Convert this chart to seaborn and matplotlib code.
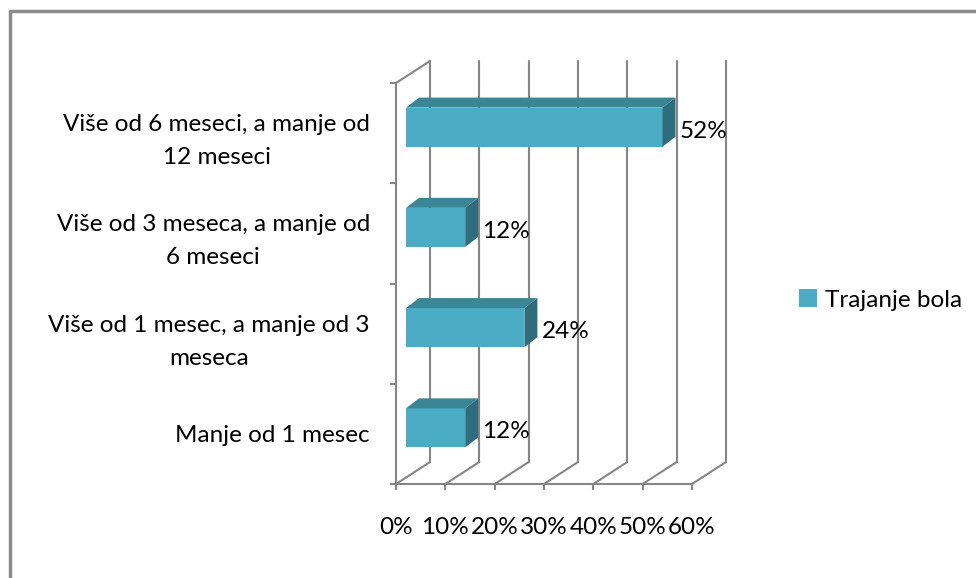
import matplotlib
matplotlib.use("Agg")
import matplotlib.pyplot as plt
import matplotlib.transforms as mtransforms
from matplotlib.lines import Line2D
from matplotlib.patches import Polygon
import seaborn as sns

# data
categories = [
    "Više od 6 meseci, a manje od\n12 meseci",
    "Više od 3 meseca, a manje od\n6 meseci",
    "Više od 1 mesec, a manje od 3\nmeseca",
    "Manje od 1 mesec",
]
values = [52, 12, 24, 12]
x_ticks = [0, 10, 20, 30, 40, 50, 60]
x_labels = ["0%", "10%", "20%", "30%", "40%", "50%", "60%"]
series_name = "Trajanje bola"

FRONT = "#4BACC6"
TOP = "#3A8596"
SIDE = "#2F6D7C"
GRID = "#868686"

sns.set_theme(style="white")
plt.rcParams["font.family"] = ["Lato", "DejaVu Sans"]
plt.rcParams["text.color"] = "black"
FS = 17.5

DPI = 100
W, H = 976, 578
fig = plt.figure(figsize=(W / DPI, H / DPI), dpi=DPI)
# front plane of the 3d box, in pixels of the picture
ax = fig.add_axes([396 / W, (H - 484) / H, (692 - 396) / W, (484 - 83) / H])

sns.barplot(x=values, y=categories, orient="h", color=FRONT, width=0.39,
            saturation=1, ax=ax, label=series_name, zorder=3)
ax.set_xlim(0, 60)
ax.set_ylim(3.5, -0.5)

ident = mtransforms.IdentityTransform()
depth = (34, 22)       # wall depth in px
bar_off = (10, 6)      # bar front face sits part way into the box
bar_depth = (13, 10)

# back wall grid lines and floor diagonals
(x0_px, yb_px), (_, yt_px) = ax.transData.transform([(0, 3.5), (0, -0.5)])
for t in x_ticks:
    xf = ax.transData.transform((t, 3.5))[0]
    xb = xf + depth[0]
    ax.add_line(Line2D([xb, xb], [yb_px + depth[1], yt_px + depth[1]], color=GRID,
                       lw=1.5, transform=ident, clip_on=False, zorder=1))
    ax.add_line(Line2D([xf, xb], [yb_px, yb_px + depth[1]], color=GRID,
                       lw=1.5, transform=ident, clip_on=False, zorder=1))
# top edge of left wall
ax.add_line(Line2D([x0_px, x0_px + depth[0]], [yt_px, yt_px + depth[1]], color=GRID,
                   lw=1.5, transform=ident, clip_on=False, zorder=1))

# turn flat bars into boxes
shift = mtransforms.ScaledTranslation(bar_off[0] / DPI, bar_off[1] / DPI, fig.dpi_scale_trans)
for bar in ax.patches:
    bx, by, bw, bh = bar.get_x(), bar.get_y(), bar.get_width(), bar.get_height()
    pts = ax.transData.transform([(bx, by), (bx + bw, by + bh)])
    lx, rx = pts[:, 0].min() + bar_off[0], pts[:, 0].max() + bar_off[0]
    lo, hi = pts[:, 1].min() + bar_off[1], pts[:, 1].max() + bar_off[1]
    dx, dy = bar_depth
    bar.set_transform(ax.transData + shift)
    bar.set_edgecolor("none")
    ax.add_patch(Polygon([(lx, hi), (rx, hi), (rx + dx, hi + dy), (lx + dx, hi + dy)],
                         closed=True, facecolor=TOP, edgecolor="none",
                         transform=ident, clip_on=False, zorder=3))
    ax.add_patch(Polygon([(rx, lo), (rx, hi), (rx + dx, hi + dy), (rx + dx, lo + dy)],
                         closed=True, facecolor=SIDE, edgecolor="none",
                         transform=ident, clip_on=False, zorder=3))

# data labels
for i, v in enumerate(values):
    ax.annotate(f"{v}%", xy=(v, i), xytext=(27, 2), textcoords="offset pixels",
                va="center", ha="left", fontsize=FS, color="black", zorder=4)

# axes styling
for side in ["top", "right"]:
    ax.spines[side].set_visible(False)
for side in ["left", "bottom"]:
    ax.spines[side].set_color(GRID)
    ax.spines[side].set_linewidth(1.5)
    ax.spines[side].set_zorder(1)
ax.set_xticks(x_ticks)
ax.set_xticklabels(x_labels, fontsize=FS, color="black")
ax.set_yticks(range(len(categories)))
ax.set_yticklabels(categories, fontsize=FS, color="black",
                   multialignment="center", linespacing=1.7)
ax.set_yticks([-0.5, 0.5, 1.5, 2.5, 3.5], minor=True)
ax.tick_params(axis="y", which="major", length=0, pad=26 * 0.72)
ax.tick_params(axis="y", which="minor", length=4.5, width=1.5, color=GRID, left=True)
ax.tick_params(axis="x", length=4.5, width=1.5, color=GRID, bottom=True, pad=19)
ax.set_xlabel("")
ax.set_ylabel("")
ax.grid(False)

leg = ax.legend(loc="center left", bbox_to_anchor=(799 / W, (H - 300) / H),
                bbox_transform=fig.transFigure, frameon=False, fontsize=FS,
                handlelength=0.75, handleheight=0.75, handletextpad=0.3,
                borderpad=0, borderaxespad=0)
for txt in leg.get_texts():
    txt.set_color("black")

# outer chart border (cropped at bottom and right)
fig.add_artist(Line2D([10 / W, 10 / W, 1.0], [0.0, (H - 11) / H, (H - 11) / H],
                      transform=fig.transFigure, color="#8C8C8C", lw=2.5))

fig.savefig("out.png", dpi=DPI, facecolor="white")
